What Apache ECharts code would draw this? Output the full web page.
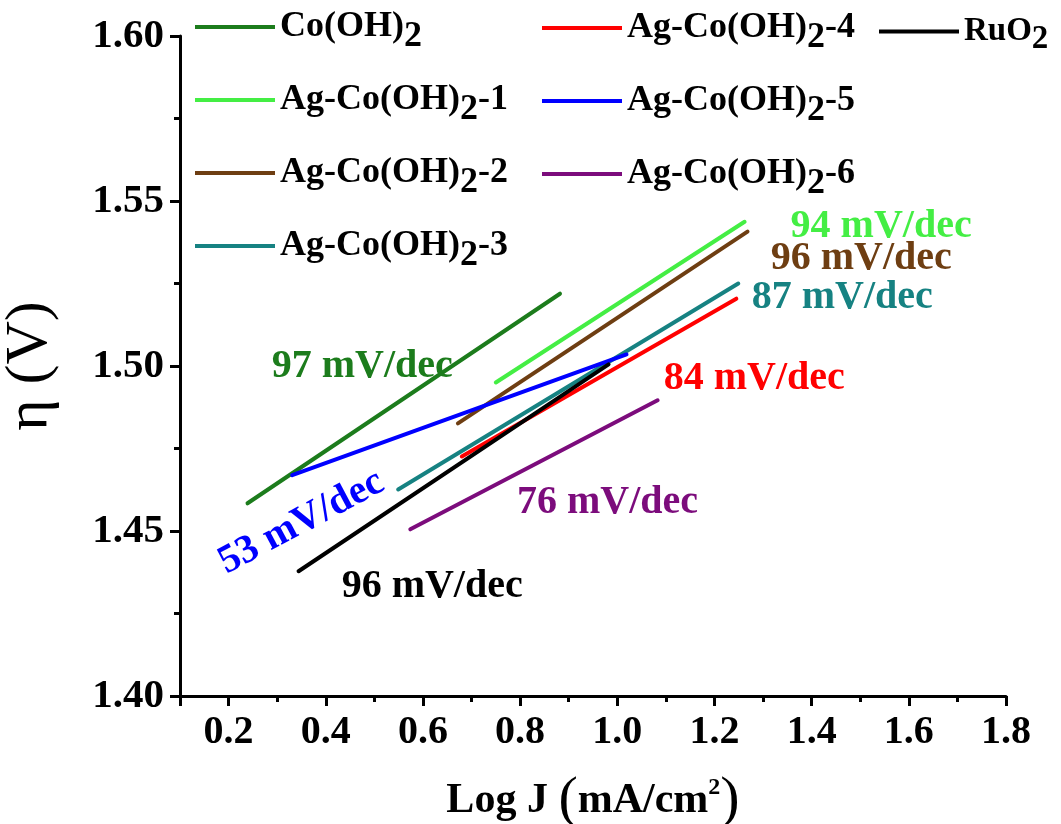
<!DOCTYPE html>
<html>
<head lang="en">
    <meta charset="UTF-8">
    <title>Tafel</title>
    <style>
        html, body { margin: 0; padding: 0; background: #fff; }
        #tafel { width: 1061px; height: 824px; }
    </style>
</head>
<body>
<div id="tafel"></div>
<script src="https://cdn.jsdelivr.net/npm/echarts@6/dist/echarts.min.js"></script>
<script>
    // 各样品的拟合直线 (起点 / 终点)
    var seriesNames = ['Co(OH)2', 'Ag-Co(OH)2-1', 'Ag-Co(OH)2-2', 'Ag-Co(OH)2-3',
                       'Ag-Co(OH)2-4', 'Ag-Co(OH)2-5', 'Ag-Co(OH)2-6', 'RuO2'];
    var xStart = [0.239, 0.750, 0.672, 0.549, 0.680, 0.331, 0.574, 0.344];
    var xEnd   = [0.882, 1.262, 1.268, 1.249, 1.245, 1.019, 1.083, 0.982];
    var yStart = [1.4584, 1.4950, 1.4826, 1.4626, 1.4726, 1.4669, 1.4505, 1.4378];
    var yEnd   = [1.5219, 1.5437, 1.5407, 1.5250, 1.5204, 1.5035, 1.4896, 1.5005];
    var lineColors = ['#1c7c1c', '#44ee44', '#6e3e12', '#168282', '#ff0000', '#0000ff', '#7c0c7c', '#000000'];

    // 斜率标注
    var slopeText   = ['97 mV/dec', '94 mV/dec', '96 mV/dec', '87 mV/dec', '84 mV/dec', '53 mV/dec', '76 mV/dec', '96 mV/dec'];
    var slopeX      = [0.475, 1.543, 1.502, 1.463, 1.282, 0.350, 0.980, 0.619];
    var slopeY      = [1.4998, 1.5422, 1.5325, 1.5207, 1.4962, 1.4526, 1.4587, 1.4330];
    var slopeRotate = [0, 0, 0, 0, 0, 28, 0, 0];

    var FONT = 'Liberation Serif';
    var chart = echarts.init(document.getElementById('tafel'));

    // 下标 "2"
    function subName(name, a, b) {
        var i = name.indexOf('2');
        var s = '{' + a + '|' + name.slice(0, i) + '}{' + b + '|2}';
        if (i + 1 < name.length) s += '{' + a + '|' + name.slice(i + 1) + '}';
        return s;
    }

    var legendRich = {
        n: {fontFamily: FONT, fontWeight: 'bold', fontSize: 36, color: '#000', lineHeight: 42},
        s: {fontFamily: FONT, fontWeight: 'bold', fontSize: 36, color: '#000', lineHeight: 42, padding: [20, 0, 0, 0]},
        r: {fontFamily: FONT, fontWeight: 'bold', fontSize: 33, color: '#000', lineHeight: 38},
        rs: {fontFamily: FONT, fontWeight: 'bold', fontSize: 33, color: '#000', lineHeight: 38, padding: [16, 0, 0, 0]}
    };

    function makeLegend(names, left, top, gap) {
        return {
            data: names,
            orient: 'vertical',
            left: left,
            top: top,
            itemWidth: 80,
            itemHeight: 4,
            itemGap: gap,
            icon: 'rect',
            selectedMode: false,
            textStyle: {rich: legendRich},
            formatter: function (name) {
                return name === 'RuO2' ? subName(name, 'r', 'rs') : subName(name, 'n', 's');
            }
        };
    }

    var series = [];
    for (var i = 0; i < seriesNames.length; i++) {
        series.push({
            name: seriesNames[i],
            type: 'line',
            data: [[xStart[i], yStart[i]], [xEnd[i], yEnd[i]]],
            showSymbol: false,
            symbol: 'none',
            silent: true,
            color: lineColors[i],
            lineStyle: {width: 4, color: lineColors[i], cap: 'round'},
            z: 2
        });
    }

    var notes = [];
    for (var k = 0; k < slopeText.length; k++) {
        notes.push({
            value: [slopeX[k], slopeY[k]],
            label: {formatter: slopeText[k], color: lineColors[k], rotate: slopeRotate[k]}
        });
    }
    series.push({
        name: 'slopes',
        type: 'scatter',
        data: notes,
        symbolSize: 0,
        silent: true,
        z: 3,
        itemStyle: {opacity: 1},
        label: {
            show: true,
            position: 'inside',
            opacity: 1,
            fontFamily: FONT,
            fontWeight: 'bold',
            fontSize: 40
        }
    });

    var axisBlack = {color: '#000', width: 3};

    var option = {
        backgroundColor: '#fff',
        animation: false,
        legend: [
            makeLegend(seriesNames.slice(0, 4), 190, -6, 17),
            makeLegend(seriesNames.slice(4, 7), 537, -5, 17),
            makeLegend(['RuO2'], 874, 2, 10)
        ],
        grid: {left: 180, right: 55, top: 36, bottom: 128, containLabel: false, outerBoundsMode: 'none'},
        xAxis: {
            type: 'value',
            min: 0.1,
            max: 1.8,
            splitNumber: 8,
            name: '{n|Log J }{p|(}{n|mA/cm}{sup|2}{p|)}',
            nameLocation: 'middle',
            nameGap: 76,
            nameTextStyle: {
                rich: {
                    n: {fontFamily: FONT, fontWeight: 'bold', fontSize: 42, color: '#000'},
                    p: {fontFamily: FONT, fontSize: 58, color: '#000'},
                    sup: {fontFamily: FONT, fontWeight: 'bold', fontSize: 24, color: '#000', padding: [0, 0, 26, 0]}
                }
            },
            axisLine: {show: true, lineStyle: axisBlack},
            axisTick: {show: true, length: 10, lineStyle: axisBlack},
            minorTick: {show: true, splitNumber: 2, length: 6, lineStyle: axisBlack},
            splitLine: {show: false},
            axisLabel: {
                fontFamily: FONT,
                fontWeight: 'bold',
                fontSize: 40,
                color: '#000',
                margin: 17,
                formatter: function (v) { return v < 0.15 ? '' : v.toFixed(1); }
            }
        },
        yAxis: {
            type: 'value',
            min: 1.40,
            max: 1.60,
            interval: 0.05,
            name: 'η (V)',
            nameLocation: 'middle',
            nameGap: 120,
            nameTextStyle: {fontFamily: FONT, fontSize: 60, color: '#000'},
            axisLine: {show: true, lineStyle: axisBlack},
            axisTick: {show: true, length: 10, lineStyle: axisBlack},
            minorTick: {show: true, splitNumber: 2, length: 6, lineStyle: axisBlack},
            splitLine: {show: false},
            axisLabel: {
                fontFamily: FONT,
                fontWeight: 'bold',
                fontSize: 41,
                color: '#000',
                margin: 16,
                formatter: function (v) { return v.toFixed(2); }
            }
        },
        series: series
    };

    chart.setOption(option);
</script>
</body>
</html>
